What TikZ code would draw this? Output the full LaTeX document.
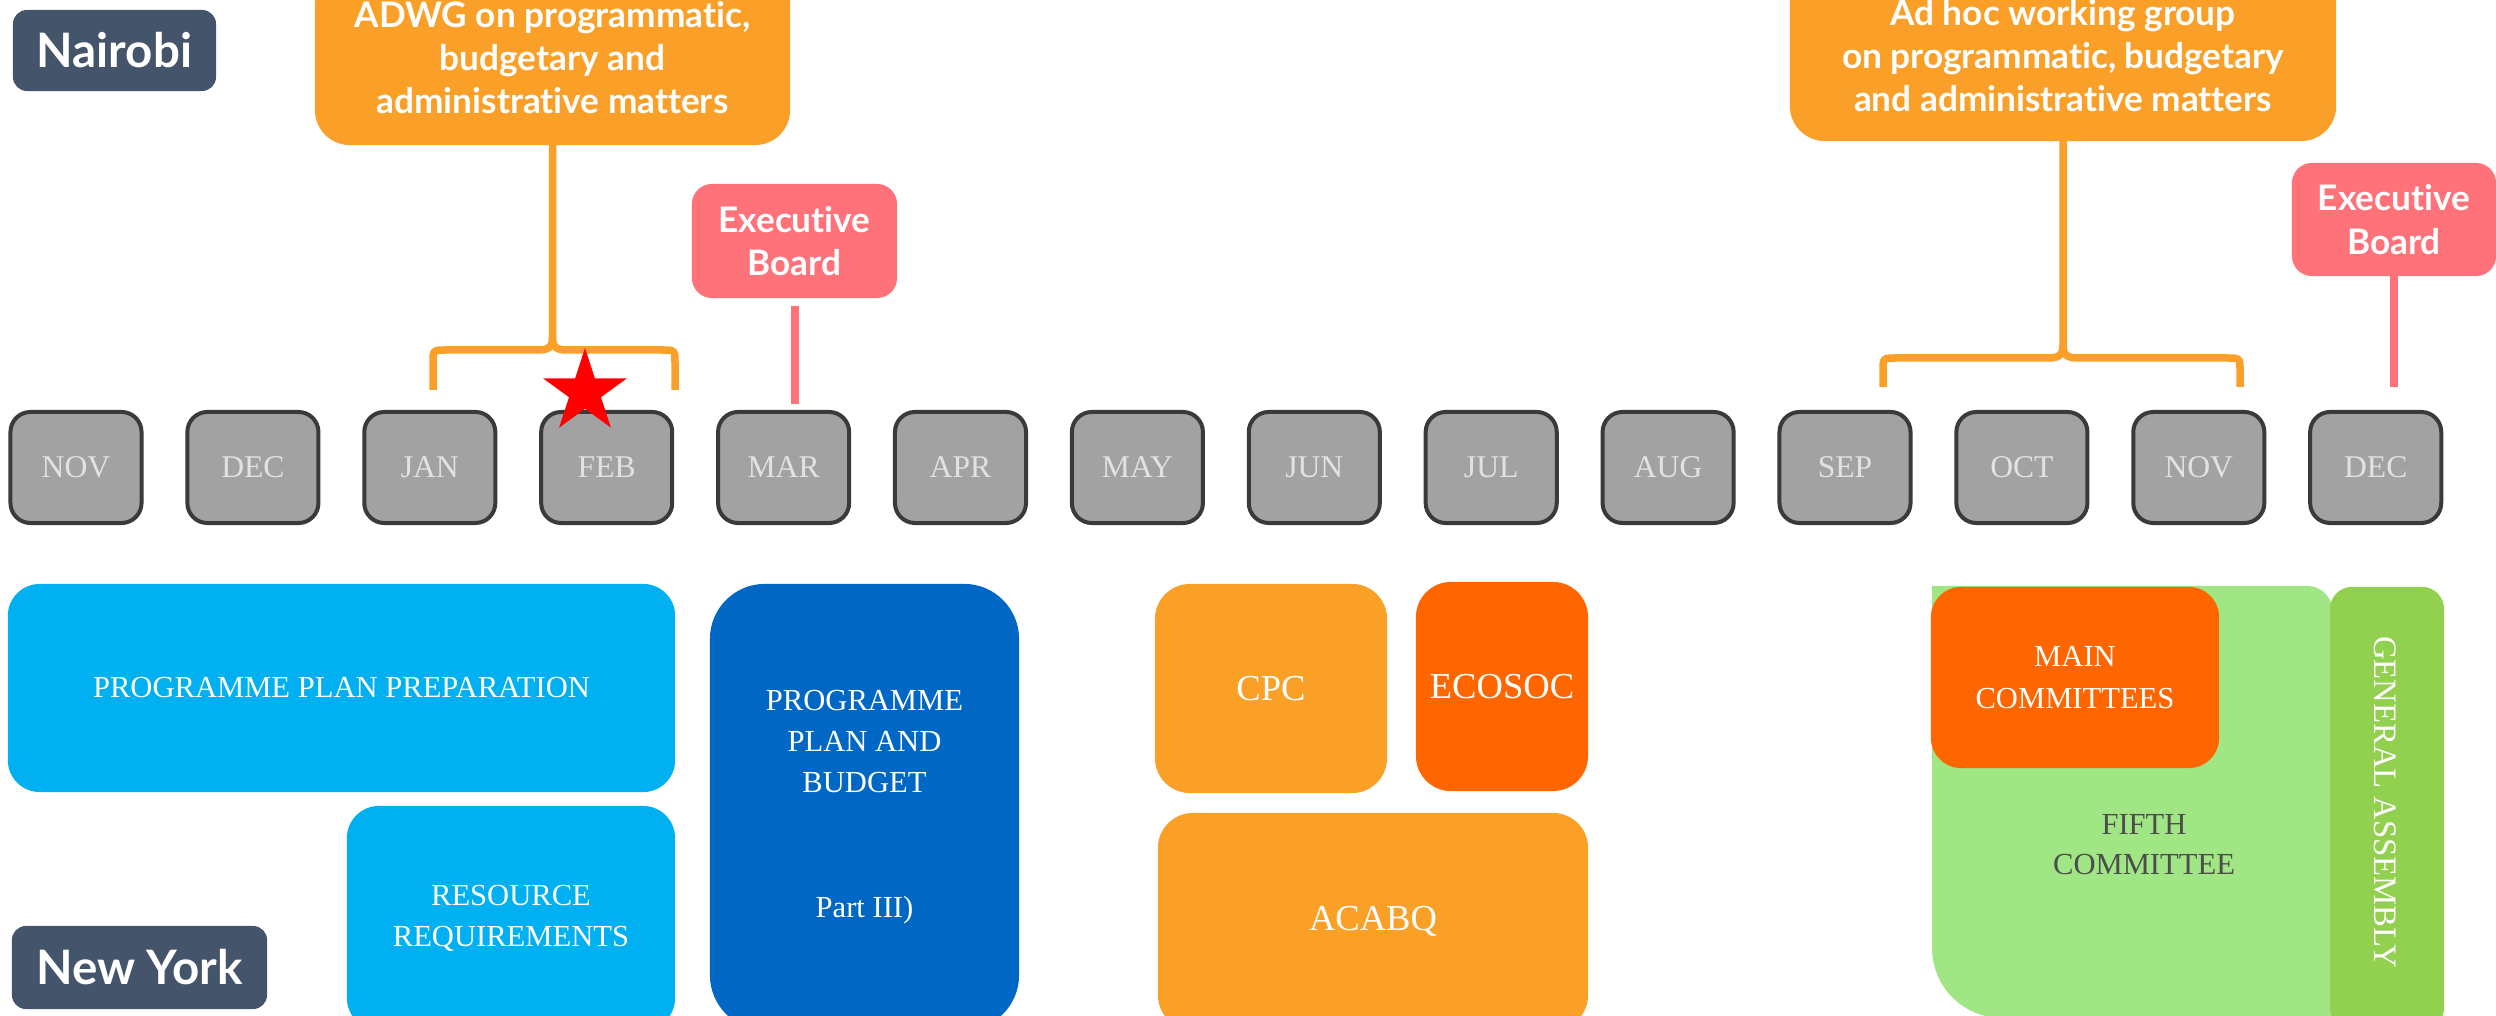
\documentclass[tikz,border=0pt]{standalone}
\usepackage{fontspec}
\setmainfont{Liberation Serif}
\newfontfamily\labfont{Lato}[Ligatures={NoCommon,NoRare,NoDiscretionary}]
\usetikzlibrary{shapes.geometric}
\definecolor{slate}{HTML}{44546A}
\definecolor{adorange}{HTML}{FA9F28}
\definecolor{ebpink}{HTML}{FF727A}
\definecolor{monthfill}{HTML}{A2A2A2}
\definecolor{monthborder}{HTML}{3A3A3A}
\definecolor{monthtext}{HTML}{E2E2E2}
\definecolor{lightblue}{HTML}{00B0F0}
\definecolor{darkblue}{HTML}{0068C4}
\definecolor{cpcorange}{HTML}{FBA026}
\definecolor{deeporange}{HTML}{FF6600}
\definecolor{fifthgreen}{HTML}{A0E685}
\definecolor{gagreen}{HTML}{92D050}
\definecolor{fifthtext}{HTML}{4D4D4D}
\begin{document}
\begin{tikzpicture}[x=0.01cm,y=-0.01cm,
  every node/.style={inner sep=0pt, outer sep=0pt, align=center},
  sanslab/.style={font=\labfont\bfseries\fontsize{10}{12.3}\selectfont, text=white},
  bigsans/.style={font=\labfont\bfseries\fontsize{13.5}{16}\selectfont, text=white},
  citybox/.style={bigsans, fill=slate, rounded corners=0.14cm},
  adwgbox/.style={sanslab, fill=adorange, rounded corners=0.35cm},
  ebbox/.style={sanslab, fill=ebpink, rounded corners=0.2cm, minimum width=2.05cm, minimum height=1.14cm},
  monthbox/.style={draw=monthborder, line width=0.04cm, fill=monthfill, rounded corners=0.2cm,
    minimum width=1.31cm, minimum height=1.11cm, text=monthtext, font=\fontsize{9}{11}\selectfont},
  serlab/.style={text=white, font=\fontsize{8.7}{11.7}\selectfont},
  serbig/.style={text=white, font=\fontsize{10.4}{12}\selectfont},
  brace/.style={draw=adorange, line width=0.075cm, line join=round},
  pinkline/.style={draw=ebpink, line width=0.08cm}
]
\useasboundingbox (0,0) rectangle (2496,1016);
\clip (0,0) rectangle (2496,1016);

% city labels
\node[citybox, minimum width=2.03cm, minimum height=0.81cm] (nairobi) at (114.5,50.5) {Nairobi};
\node[citybox, minimum width=2.55cm, minimum height=0.83cm] (newyork) at (139.5,967.5) {New York};

% ADWG boxes
\node[adwgbox, minimum width=4.75cm, minimum height=1.75cm] (adwg1) at (552.5,57.5)
  {ADWG on programmatic,\\budgetary and\\administrative matters};
\node[adwgbox, minimum width=5.46cm, minimum height=1.71cm] (adwg2) at (2063,55.5)
  {Ad hoc working group\\on programmatic, budgetary\\and administrative matters};

% Executive boards
\node[ebbox] (eb1) at (794.5,241) {Executive\\Board};
\node[ebbox, minimum width=2.04cm, minimum height=1.13cm] (eb2) at (2394,219.5) {Executive\\Board};

% months
\foreach \m [count=\i from 0] in {NOV,DEC,JAN,FEB,MAR,APR,MAY,JUN,JUL,AUG,SEP,OCT,NOV,DEC}
  \node[monthbox] (m\i) at ({76+176.9*\i},467.5) {\m};

% bracket 1
\coordinate (b1l) at (433,390);
\coordinate (b1r) at (675,390);
\coordinate (b1c) at (552.5,337);
\draw[brace] (b1l) -- (433,363) .. controls (433,350) .. (446,350) -- (538,350)
  .. controls (549,350) and (552.5,347) .. (b1c) -- (adwg1.south);
\draw[brace] (b1r) -- (675,363) .. controls (675,350) .. (662,350) -- (567,350)
  .. controls (556,350) and (552.5,347) .. (b1c);

% bracket 2
\coordinate (b2l) at (1883,387);
\coordinate (b2r) at (2240,387);
\coordinate (b2c) at (2063,345);
\draw[brace] (b2l) -- (1883,371) .. controls (1883,358) .. (1896,358) -- (2048,358)
  .. controls (2059,358) and (2063,355) .. (b2c) -- (adwg2.south);
\draw[brace] (b2r) -- (2240,371) .. controls (2240,358) .. (2227,358) -- (2078,358)
  .. controls (2067,358) and (2063,355) .. (b2c);

% executive board lines
\coordinate (eb1end) at (794.5,404);
\coordinate (eb2end) at (2394,387);
\draw[pinkline, shorten <=0.08cm] (eb1.south) -- (eb1end);
\draw[pinkline] (eb2.south) -- (eb2end);

% star
\node[star, star points=5, star point ratio=2.618, fill=red, minimum size=0.88cm] (star) at (585,392) {};

% bottom: New York bodies
\node[serlab, fill=lightblue, rounded corners=0.32cm, minimum width=6.67cm, minimum height=2.08cm]
  (ppp) at (341.5,688) {PROGRAMME PLAN PREPARATION};
\node[serlab, fill=lightblue, rounded corners=0.32cm, minimum width=3.28cm, minimum height=2.24cm]
  (rr) at (511,918) {RESOURCE\\REQUIREMENTS};
\node[serlab, fill=darkblue, rounded corners=0.55cm, minimum width=3.09cm, minimum height=4.46cm]
  (ppb) at (864.5,807) {PROGRAMME\\PLAN AND\\BUDGET\\[0.84cm]Part III)};
\node[serbig, fill=cpcorange, rounded corners=0.35cm, minimum width=2.32cm, minimum height=2.09cm]
  (cpc) at (1271,688.5) {CPC};
\node[serbig, fill=deeporange, rounded corners=0.35cm, minimum width=1.72cm, minimum height=2.09cm]
  (ecosoc) at (1502,686.5) {ECOSOC};
\node[serbig, fill=cpcorange, rounded corners=0.35cm, minimum width=4.30cm, minimum height=2.17cm]
  (acabq) at (1373,921.5) {ACABQ};

% fifth committee
\fill[fifthgreen] (1932,586) -- (2308,586) .. controls (2321.8,586) and (2333,599.2) .. (2333,611)
  -- (2333,1018) -- (2002,1018) .. controls (1963.3,1018) and (1932,986.7) .. (1932,948) -- cycle;
\node[serlab, text=fifthtext, font=\fontsize{8.7}{11.4}\selectfont] (fifthlbl) at (2144,845) {FIFTH\\COMMITTEE};
\node[serlab, fill=deeporange, rounded corners=0.3cm, minimum width=2.88cm, minimum height=1.81cm]
  (main) at (2075,677.5) {MAIN\\COMMITTEES};
\node[fill=gagreen, rounded corners=0.22cm, minimum width=1.14cm, minimum height=4.43cm]
  (ga) at (2387,808.5) {};
\node[serlab, font=\fontsize{9.3}{11}\selectfont, rotate=-90] (galbl) at (2385,802) {GENERAL ASSEMBLY};
\end{tikzpicture}
\end{document}
